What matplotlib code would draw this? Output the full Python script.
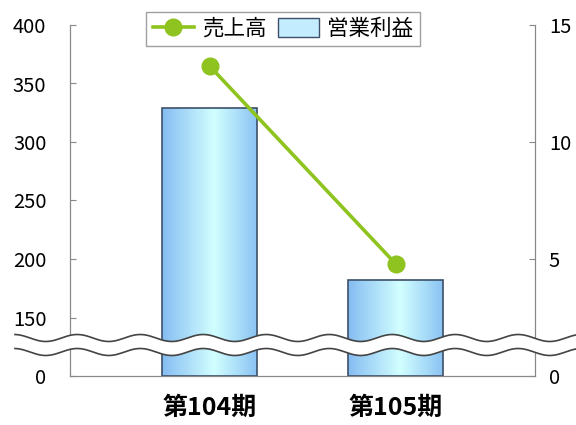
import numpy as np
import matplotlib.pyplot as plt
from matplotlib.lines import Line2D
from matplotlib.patches import Patch, Polygon
from matplotlib.colors import LinearSegmentedColormap

plt.rcParams['font.family'] = ['Noto Sans CJK JP', 'DejaVu Sans']

# --- data ------------------------------------------------------------------
periods = ["第104期", "第105期"]
sales = [365, 196]            # 売上高, left axis (broken below 150)
op_profit = [11.45, 4.1]      # 営業利益, right axis
left_ticks = [0, 150, 200, 250, 300, 350, 400]
right_ticks = [0, 5, 10, 15]

# left axis: 0..150 squeezed into one 50-unit step (axis break)
def squeeze(v):
    return v if v >= 150 else 100 + v / 150 * 50

W, H = 576, 425
fig = plt.figure(figsize=(W / 100, H / 100), dpi=100)
axL = fig.add_axes([70 / W, 1 - 376 / H, 465 / W, 351 / H])
axR = axL.twinx()
axL.set_zorder(axR.get_zorder() + 1)
axL.patch.set_visible(False)

x = np.arange(len(periods))

# bars with horizontal gradient
bars = axR.bar(x, op_profit, width=0.51, color="none",
               edgecolor="#3d5068", linewidth=1.2, zorder=3)
grad = LinearSegmentedColormap.from_list(
    "g", [(0.0, "#86bdf2"), (0.55, "#d2ffff"), (1.0, "#8cc4f4")])
for b in bars:
    bx, by = b.get_x(), b.get_y()
    im = axR.imshow(np.linspace(0, 1, 100)[None, :], cmap=grad, aspect="auto",
                    extent=[bx, bx + b.get_width(), by, by + b.get_height()],
                    zorder=2)
    im.set_clip_path(b)

axL.plot(x, [squeeze(v) for v in sales], color="#8fc31f", lw=2.6,
         marker="o", ms=12, zorder=5)

axL.set_xlim(-0.75, 1.75)
axR.set_xlim(-0.75, 1.75)
axL.set_ylim(100, 400)
axR.set_ylim(0, 15)

axL.set_yticks([squeeze(v) for v in left_ticks])
axL.set_yticklabels([str(v) for v in left_ticks])
axR.set_yticks(right_ticks)
axR.set_yticklabels([str(v) for v in right_ticks])
axL.set_xticks(x)
axL.set_xticklabels(periods, fontsize=18, fontweight="bold")

axL.tick_params(axis="y", direction="in", length=4, pad=17, labelsize=14.5,
                color="#888888")
axR.tick_params(axis="y", direction="in", length=4, pad=10, labelsize=14.5,
                color="#888888")
axL.tick_params(axis="x", length=0, pad=14)
for a in (axL, axR):
    a.spines["top"].set_visible(False)
    for s in ("left", "right", "bottom"):
        a.spines[s].set_color("#888888")

# axis break: two wavy lines with white band between
xs = np.linspace(15, W, 400)
ph = 2 * np.pi * (xs - 30) / 63
up = 338 + 3.5 * np.sin(ph)
lo = 352 + 3.5 * np.sin(ph)
fx = xs / W
band = Polygon(np.column_stack([np.r_[fx, fx[::-1]],
                                np.r_[1 - up / H, (1 - lo / H)[::-1]]]),
               closed=True, facecolor="white", edgecolor="none",
               transform=fig.transFigure, zorder=10)
fig.add_artist(band)
for yy in (up, lo):
    fig.add_artist(Line2D(fx, 1 - yy / H, color="#444444", lw=1.2,
                          transform=fig.transFigure, zorder=11))

# legend
handles = [Line2D([], [], color="#8fc31f", lw=2.6, marker="o", ms=12),
           Patch(facecolor="#c4ecff", edgecolor="#3d5068")]
leg = fig.legend(handles, ["売上高", "営業利益"], loc="center",
                 bbox_to_anchor=(283 / W, 1 - 29 / H), ncol=2, fontsize=15.5,
                 frameon=True, fancybox=False, edgecolor="#888888",
                 handlelength=1.9, handleheight=1.0, handletextpad=0.4,
                 columnspacing=0.5, borderpad=0.3)
leg.get_frame().set_linewidth(1.0)

fig.savefig("out.png", dpi=100)
